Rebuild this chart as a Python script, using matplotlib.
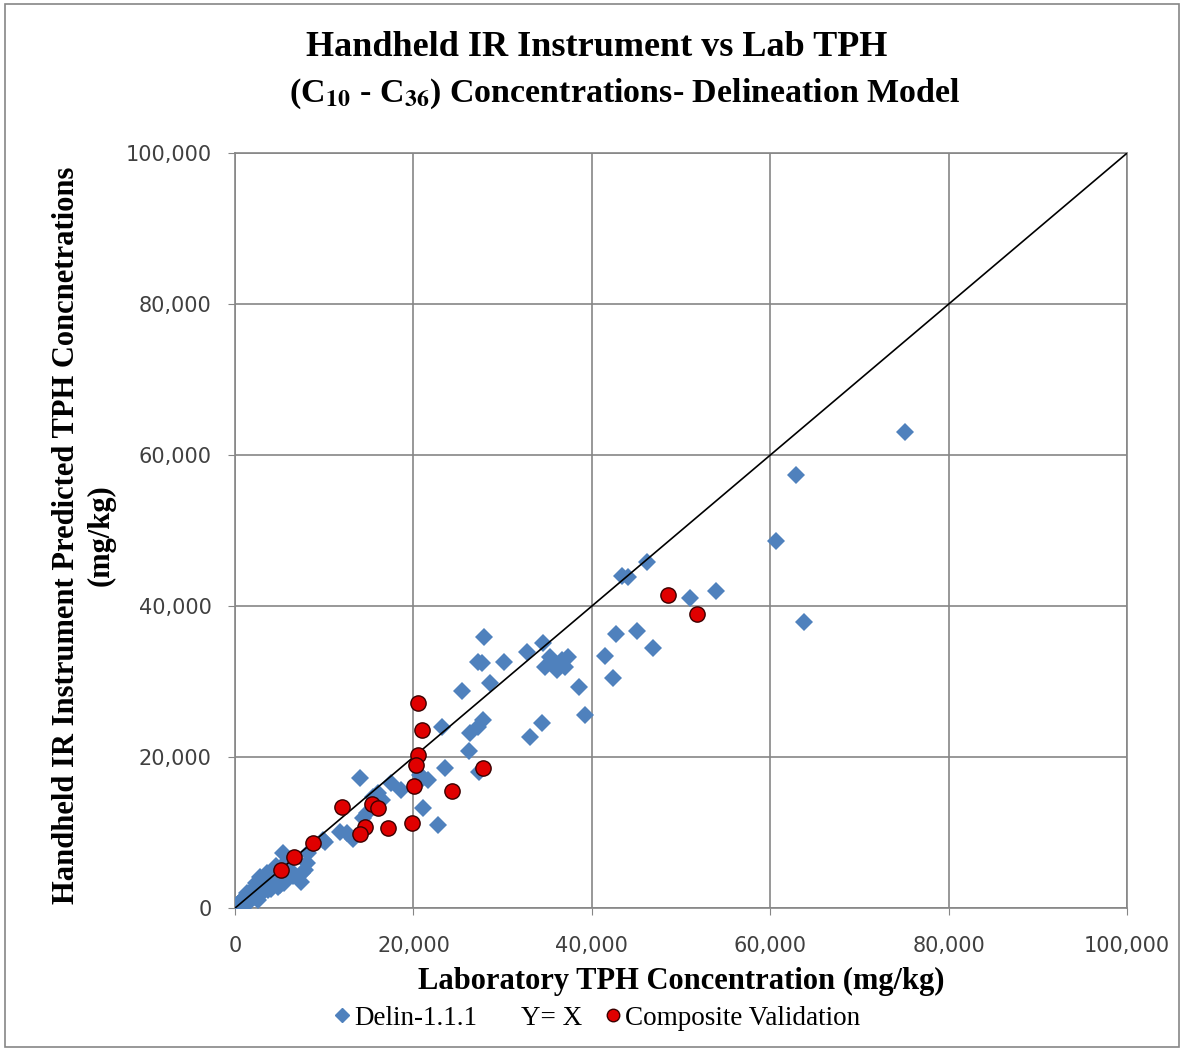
import matplotlib.pyplot as plt
from matplotlib.lines import Line2D
from matplotlib.patches import Rectangle

# Delin-1.1.1 points, in thousands of mg/kg (lab, instrument)
delin_x = [75.1, 62.9, 60.6, 63.8, 53.9, 51.0, 46.2, 43.4, 44.1, 42.7, 45.1, 46.9, 41.5, 42.4, 38.6, 39.2,
           27.9, 27.2, 27.7, 30.2, 28.6, 25.4, 32.7, 34.5, 34.8, 35.7, 36.1, 36.7, 37.3, 37.0, 35.3,
           23.2, 27.8, 27.2, 26.3, 26.2, 33.1, 34.4, 23.5, 27.4, 22.8,
           14.0, 21.1, 21.6, 20.7, 21.1, 17.5, 18.6, 16.0, 15.5, 16.5, 14.8, 14.4, 11.8, 12.6, 13.2, 10.1, 9.9,
           8.2, 8.1, 7.5, 5.4, 2.8, 4.3, 5.0, 7.4, 7.8, 3.7, 2.6,
           0.2, 0.4, 0.6, 0.8, 1.0, 1.2, 1.5, 1.7, 2.0, 2.2, 2.5, 2.7, 3.0, 3.2, 3.5, 3.8, 4.0, 4.2, 4.5,
           4.8, 5.0, 5.3, 5.5, 5.8, 6.2, 6.5, 0.1, 0.3, 1.3, 2.4, 3.6, 4.6,
           0.5, 0.9, 1.1, 1.4, 1.8, 1.9, 2.3, 2.9, 3.3, 3.9, 4.4, 5.2, 5.6, 6.0, 0.7, 1.6]
delin_y = [63.0, 57.4, 48.6, 37.9, 42.0, 41.1, 45.8, 44.0, 43.8, 36.3, 36.7, 34.4, 33.4, 30.5, 29.3, 25.6,
           35.9, 32.6, 32.4, 32.6, 29.8, 28.7, 33.9, 35.1, 31.9, 32.4, 31.5, 32.8, 33.2, 31.9, 33.2,
           24.0, 24.9, 24.0, 23.2, 20.8, 22.6, 24.5, 18.5, 18.0, 11.0,
           17.2, 17.2, 17.0, 17.6, 13.2, 16.6, 15.6, 15.2, 14.7, 14.3, 12.6, 11.9, 10.1, 10.0, 9.2, 8.7, 9.0,
           7.3, 6.0, 4.6, 7.3, 4.1, 3.7, 3.0, 3.4, 5.0, 2.4, 1.1,
           0.3, 0.1, 0.8, 0.5, 1.2, 0.7, 1.6, 1.0, 2.2, 1.5, 2.8, 1.9, 3.4, 2.3, 2.7, 3.9, 2.5, 3.2, 4.4,
           2.8, 3.6, 5.5, 3.3, 6.2, 5.0, 4.2, 0.0, 0.6, 2.0, 3.3, 4.6, 5.6,
           0.4, 0.6, 1.5, 0.9, 1.3, 2.4, 1.8, 2.5, 3.0, 3.1, 3.5, 4.3, 4.0, 4.8, 1.0, 1.9]

# Composite Validation points, thousands of mg/kg
comp_x = [48.5, 51.8, 20.5, 21.0, 20.5, 20.3, 20.1, 19.8, 17.2, 14.6, 14.0, 12.0, 15.4, 16.0, 27.8, 24.3, 8.7, 6.6, 5.1]
comp_y = [41.5, 38.9, 27.2, 23.6, 20.3, 18.9, 16.2, 11.3, 10.6, 10.8, 9.8, 13.4, 13.8, 13.2, 18.5, 15.5, 8.6, 6.8, 5.0]

line_xy = [0, 100000]
ticks = [0, 20000, 40000, 60000, 80000, 100000]
tick_labels = ["0", "20,000", "40,000", "60,000", "80,000", "100,000"]

plt.rcParams['mathtext.fontset'] = 'stix'
serif = 'Liberation Serif'

fig = plt.figure(figsize=(11.84, 10.51), dpi=100)
ax = fig.add_axes([0.1985, 0.136, 0.7535, 0.7184])

ax.plot([v * 1000 for v in delin_x], [v * 1000 for v in delin_y], 'D', color='#4F81BD',
        markersize=9, markeredgewidth=0, linestyle='none', zorder=3)
ax.plot(line_xy, line_xy, color='black', linewidth=1.2, zorder=4)
ax.plot([v * 1000 for v in comp_x], [v * 1000 for v in comp_y], 'o', color='#E00000',
        markeredgecolor='#3a0000', markeredgewidth=1.0, markersize=11, linestyle='none', zorder=5)

ax.set_xlim(0, 100000)
ax.set_ylim(0, 100000)
ax.set_xticks(ticks)
ax.set_yticks(ticks)
ax.set_xticklabels(tick_labels, fontsize=15, color='#404040')
ax.set_yticklabels(tick_labels, fontsize=15, color='#404040')
ax.tick_params(direction='out', length=5, color='#868686')
ax.tick_params(axis='y', pad=12)
ax.tick_params(axis='x', pad=15)
ax.grid(True, color='#868686', linewidth=1.2)
ax.set_axisbelow(True)
for s in ax.spines.values():
    s.set_color('#868686')
    s.set_linewidth(1.2)

fig.text(0.504, 0.955, "Handheld IR Instrument vs Lab TPH", ha='center', va='center',
         fontsize=26, fontweight='bold', family=serif)
fig.text(0.528, 0.911, r"(C$_{\mathbf{10}}$ - C$_{\mathbf{36}}$) Concentrations- Delineation Model",
         ha='center', va='center', fontsize=24.5, fontweight='bold', family=serif)

ax.set_xlabel("Laboratory TPH Concentration (mg/kg)", fontsize=22, fontweight='bold',
              family=serif, labelpad=8)
fig.text(0.071, 0.491, "Handheld IR Instrument Predicted TPH Concnetrations\n(mg/kg)",
         rotation=90, ha='center', va='center', fontsize=22, fontweight='bold',
         family=serif, linespacing=1.25, multialignment='center')

handles = [Line2D([], [], marker='D', color='#4F81BD', linestyle='none', markersize=7),
           Line2D([], [], color='none'),
           Line2D([], [], marker='o', color='#E00000', markeredgecolor='#3a0000',
                  linestyle='none', markersize=9)]
fig.legend(handles, ["Delin-1.1.1", "Y= X", "Composite Validation"], loc='center',
           bbox_to_anchor=(0.505, 0.031), ncol=3, frameon=False,
           prop={'family': serif, 'size': 19.5}, handlelength=0.5, handletextpad=0.2,
           columnspacing=0.9)

fig.patches.append(Rectangle((0.004, 0.004), 0.992, 0.992, transform=fig.transFigure,
                             fill=False, edgecolor='#868686', linewidth=1.2))

fig.savefig('out.png', dpi=100)
